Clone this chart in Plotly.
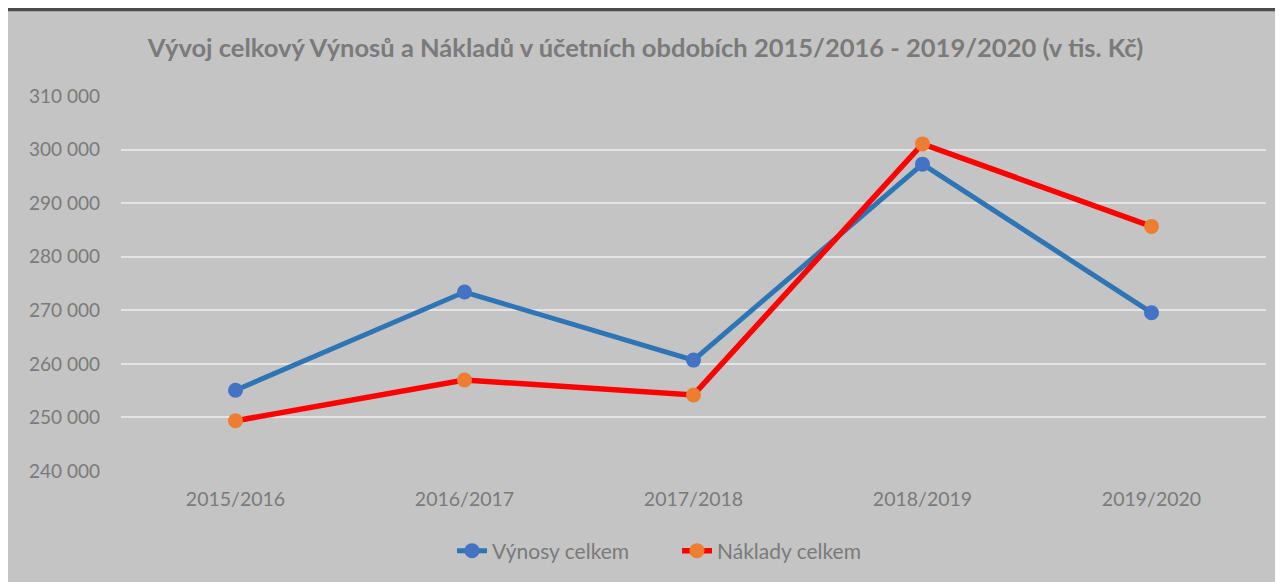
import plotly.graph_objects as go

categories = ["2015/2016", "2016/2017", "2017/2018", "2018/2019", "2019/2020"]
vynosy = [255080, 273400, 260700, 297280, 269550]
naklady = [249370, 257000, 254200, 301060, 285660]
series_names = ["Výnosy celkem", "Náklady celkem"]
title_text = "Vývoj celkový Výnosů a Nákladů v účetních obdobích 2015/2016 - 2019/2020 (v tis. Kč)"
y_ticks = [240000, 250000, 260000, 270000, 280000, 290000, 300000, 310000]

FONT = "Lato"
TXT = "#7a7a7a"
BG = "#c4c4c4"
DARK = "#4b4b4b"

# page offset of the figure (browser body margin)
OX, OY = 8, 8
W, H = 1283 - OX, 582 - OY
L, R, T, B = 121 - OX, 17, 96 - OY, 110
pw, ph = W - L - R, H - T - B


def px_x(p):
    return (p - OX - L) / pw


def px_y(p):
    return 1 - (p - OY - T) / ph


fig = go.Figure()
fig.add_trace(go.Scatter(
    x=categories, y=vynosy, name=series_names[0], mode="lines+markers",
    line=dict(color="#2e75b6", width=5),
    marker=dict(color="#4472c4", size=15),
))
fig.add_trace(go.Scatter(
    x=categories, y=naklady, name=series_names[1], mode="lines+markers",
    line=dict(color="#ff0000", width=5.5),
    marker=dict(color="#ed7d31", size=15),
))

fig.update_layout(
    width=W, height=H,
    margin=dict(l=L, r=R, t=T, b=B),
    paper_bgcolor=BG, plot_bgcolor=BG,
    separators=", ",
    font=dict(family=FONT, color=TXT, size=19),
    title=dict(text="<b>" + title_text + "</b>", x=0.5, xanchor="center",
               y=1 - (48 - OY) / H, yanchor="middle",
               font=dict(family=FONT, size=25.5, color=TXT)),
    xaxis=dict(type="category", range=[-0.5, 4.5], showgrid=False,
               zeroline=False, showline=False, ticks="",
               tickfont=dict(size=19.5, color=TXT), ticklabelstandoff=14),
    yaxis=dict(range=[240000, 310000], tickvals=y_ticks, tickformat=",d",
               showgrid=True, gridcolor="#e4e4e4", gridwidth=2,
               zeroline=False, showline=False, ticks="",
               tickfont=dict(size=19, color=TXT), ticklabelstandoff=20),
    legend=dict(orientation="h", x=px_x(452), xanchor="left",
                y=px_y(551), yanchor="middle", entrywidth=180,
                font=dict(size=21, color=TXT), bgcolor="rgba(0,0,0,0)"),
    showlegend=True,
    shapes=[
        dict(type="rect", xref="paper", yref="paper", layer="above",
             x0=px_x(0), x1=px_x(1290), y0=px_y(11), y1=px_y(0),
             fillcolor=DARK, line=dict(width=0)),
    ],
)

fig.write_html("out.html")
